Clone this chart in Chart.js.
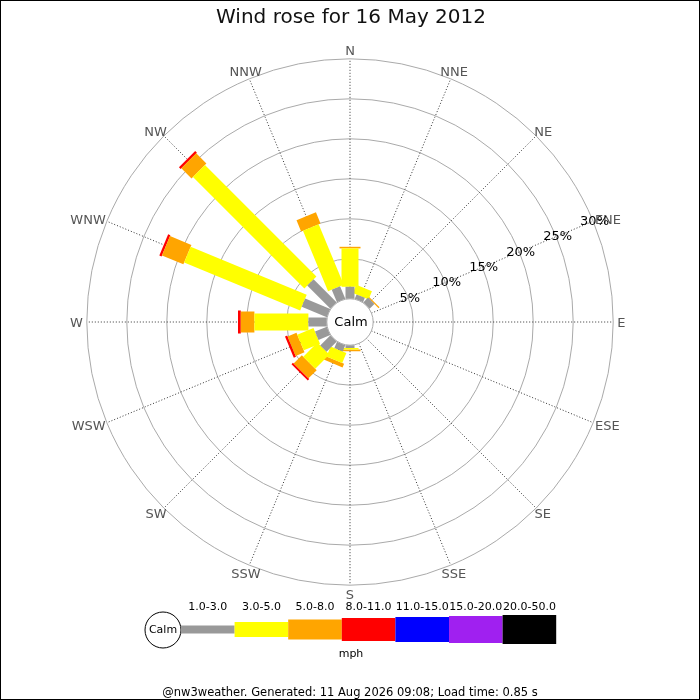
<!DOCTYPE html>
<html>
<head>
<meta charset="utf-8">
<title>Wind rose for 16 May 2012</title>
<script src="https://cdn.jsdelivr.net/npm/chart.js@4/dist/chart.umd.min.js"></script>
<style>
  html, body { margin: 0; padding: 0; background: #fff; }
  #wrap { width: 700px; height: 700px; position: relative; }
  canvas { display: block; }
</style>
</head>
<body>
<div id="wrap"><canvas id="rose" width="700" height="700"></canvas></div>
<script>
'use strict';

// directions, clockwise from north
const directions = ['N', 'NNE', 'NE', 'ENE', 'E', 'ESE', 'SE', 'SSE',
  'S', 'SSW', 'SW', 'WSW', 'W', 'WNW', 'NW', 'NNW'];

// speed classes (mph) and their colours
const speedBins = ['1.0-3.0', '3.0-5.0', '5.0-8.0', '8.0-11.0', '11.0-15.0', '15.0-20.0', '20.0-50.0'];
const binColors = ['#999999', '#ffff00', '#ffa500', '#ff0000', '#0000ff', '#a020f0', '#000000'];

// % of the day per direction, one array per speed class
const pct1to3 = [1.5, 0.6, 0.85, 0, 0, 0, 0, 0, 0.35, 0.85, 1.8, 1.6, 2.3, 3.4, 4.1, 1.7];
const pct3to5 = [4.8, 1.1, 0, 0, 0, 0, 0, 0, 0.2, 1.35, 2.5, 2.2, 6.75, 15.7, 19.7, 8.2];
const pct5to8 = [0.2, 0, 0.15, 0, 0, 0, 0, 0, 0.2, 0.5, 1.45, 1.2, 1.7, 2.9, 1.8, 1.5];
const pct8to11 = [0, 0, 0, 0, 0, 0, 0, 0, 0, 0, 0.25, 0.3, 0.35, 0.3, 0.3, 0];

const calmPct = 2.9;
const ringTicks = [5, 10, 15, 20, 25, 30];

const title = 'Wind rose for 16 May 2012';
const footer = '@nw3weather. Generated: 11 Aug 2026 09:08; Load time: 0.85 s';

const series = [pct1to3, pct3to5, pct5to8, pct8to11];
const barWidths = [9, 17, 21, 23, 25, 27, 29];
const FONT = '"DejaVu Sans", Verdana, sans-serif';

function polar(rho, i) {
  const a = i * Math.PI / 8;
  return { x: rho * Math.sin(a), y: rho * Math.cos(a) };
}

// one thick line segment per direction and speed class, stacked outward
const datasets = [];
const base = directions.map(() => calmPct);
series.forEach((vals, b) => {
  vals.forEach((v, i) => {
    if (v > 0) {
      const r0 = base[i];
      const r1 = r0 + v;
      datasets.push({
        label: directions[i] + ' ' + speedBins[b],
        data: [polar(r0, i), polar(r1, i)],
        showLine: true,
        borderColor: binColors[b],
        backgroundColor: binColors[b],
        borderWidth: barWidths[b],
        borderCapStyle: 'butt',
        pointRadius: 0,
        fill: false,
        tension: 0,
      });
    }
    base[i] += v;
  });
});

const roseDecor = {
  id: 'roseDecor',
  beforeDraw(chart) {
    const ctx = chart.ctx;
    ctx.save();
    ctx.fillStyle = '#fff';
    ctx.fillRect(0, 0, chart.width, chart.height);
    ctx.restore();
  },
  beforeDatasetsDraw(chart) {
    const ctx = chart.ctx;
    const sx = chart.scales.x, sy = chart.scales.y;
    const cx = sx.getPixelForValue(0), cy = sy.getPixelForValue(0);
    const rpx = (v) => sx.getPixelForValue(v) - cx;
    ctx.save();
    ctx.strokeStyle = '#aaaaaa';
    ctx.lineWidth = 1;
    ringTicks.forEach((t) => {
      ctx.beginPath();
      ctx.arc(cx, cy, rpx(calmPct + t), 0, Math.PI * 2);
      ctx.stroke();
    });
    ctx.strokeStyle = '#333';
    ctx.setLineDash([1, 2]);
    const rIn = rpx(calmPct), rOut = rpx(calmPct + ringTicks[ringTicks.length - 1]);
    directions.forEach((d, i) => {
      const a = i * Math.PI / 8;
      ctx.beginPath();
      ctx.moveTo(cx + rIn * Math.sin(a), cy - rIn * Math.cos(a));
      ctx.lineTo(cx + rOut * Math.sin(a), cy - rOut * Math.cos(a));
      ctx.stroke();
    });
    ctx.restore();
  },
  afterDatasetsDraw(chart) {
    const ctx = chart.ctx;
    const sx = chart.scales.x, sy = chart.scales.y;
    const cx = sx.getPixelForValue(0), cy = sy.getPixelForValue(0);
    const rpx = (v) => sx.getPixelForValue(v) - cx;
    ctx.save();

    // calm circle
    ctx.beginPath();
    ctx.arc(cx, cy, rpx(calmPct), 0, Math.PI * 2);
    ctx.fillStyle = '#fff';
    ctx.fill();
    ctx.strokeStyle = '#aaaaaa';
    ctx.lineWidth = 1;
    ctx.stroke();
    ctx.fillStyle = '#000';
    ctx.font = '13px ' + FONT;
    ctx.textAlign = 'center';
    ctx.textBaseline = 'middle';
    ctx.fillText('Calm', cx + 1, cy + 1);

    // compass labels
    const rLab = rpx(calmPct + ringTicks[ringTicks.length - 1]) + 3;
    ctx.fillStyle = '#555';
    directions.forEach((d, i) => {
      const a = i * Math.PI / 8;
      const hw = ctx.measureText(d).width / 2 + 1;
      const x = cx + (rLab + hw * Math.abs(Math.sin(a))) * Math.sin(a);
      const y = cy - (rLab + 6 * Math.abs(Math.cos(a))) * Math.cos(a) + 1.5;
      ctx.fillText(d, x, y);
    });

    // percentage labels along ENE spoke
    ctx.fillStyle = '#000';
    ctx.font = '13px ' + FONT;
    const aL = 3 * Math.PI / 8;
    ringTicks.forEach((t) => {
      const r = rpx(calmPct + t) + 1.5;
      ctx.fillText(t + '%', cx + r * Math.sin(aL), cy - r * Math.cos(aL) + 1);
    });

    // title
    ctx.fillStyle = '#111';
    ctx.font = '20px ' + FONT;
    ctx.fillText(title, 351, 18);

    // legend
    const lx = 181, segW = 53.6, ly = 629.5;
    ctx.beginPath();
    ctx.arc(163, 630, 18, 0, Math.PI * 2);
    ctx.fillStyle = '#fff';
    ctx.fill();
    ctx.strokeStyle = '#000';
    ctx.stroke();
    ctx.fillStyle = '#000';
    ctx.font = '11px ' + FONT;
    ctx.fillText('Calm', 163, 630);
    speedBins.forEach((lab, b) => {
      const h = [8, 15, 20, 23, 25, 27, 29][b];
      ctx.fillStyle = binColors[b];
      ctx.fillRect(lx + b * segW, ly - h / 2, segW, h);
      ctx.fillStyle = '#000';
      ctx.font = '11px ' + FONT;
      ctx.fillText(lab, lx + b * segW + segW / 2, 607);
    });
    ctx.font = '11px ' + FONT;
    ctx.fillText('mph', 351, 654);

    // footer
    ctx.font = '11.5px ' + FONT;
    ctx.fillText(footer, 350, 693);

    // frame
    ctx.strokeStyle = '#000';
    ctx.lineWidth = 1;
    ctx.strokeRect(0.5, 0.5, chart.width - 1, chart.height - 1);
    ctx.restore();
  },
};

new Chart(document.getElementById('rose'), {
  type: 'scatter',
  data: { datasets },
  options: {
    responsive: false,
    animation: false,
    devicePixelRatio: 1,
    layout: { padding: { left: 60, right: 60, top: 32, bottom: 88 } },
    plugins: { legend: { display: false }, tooltip: { enabled: false }, title: { display: false } },
    scales: {
      x: { display: false, min: -36.25, max: 36.25 },
      y: { display: false, min: -36.25, max: 36.25 },
    },
  },
  plugins: [roseDecor],
});
</script>
</body>
</html>
